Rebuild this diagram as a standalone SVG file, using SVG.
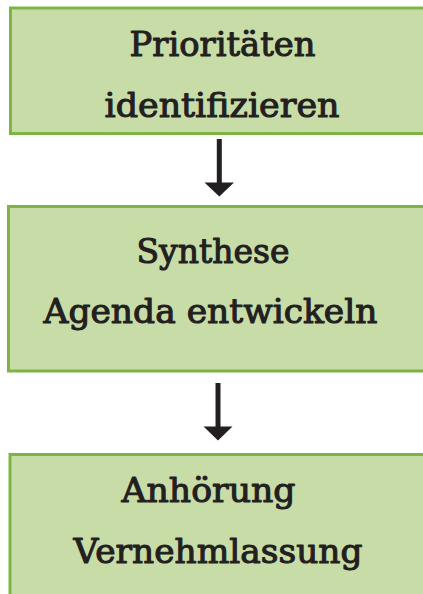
<svg xmlns="http://www.w3.org/2000/svg" width="423" height="594" viewBox="0 0 423 594">
<style>
.box{fill:#c8dca8;stroke:#7db544;stroke-width:3}
.t{font-family:"DejaVu Serif","Liberation Serif",serif;font-size:34px;font-weight:normal;fill:#231f20;stroke:#231f20;stroke-width:1.1;stroke-linejoin:round}
.arr{fill:#231f20}
</style>
<rect width="423" height="594" fill="#ffffff"/>
<g id="node1">
<rect class="box" x="10.5" y="8" width="420" height="125.5"/>
<text class="t" x="129.5" y="56" textLength="186" lengthAdjust="spacingAndGlyphs">Prioritäten</text>
<text class="t" x="104.5" y="117" textLength="235" lengthAdjust="spacingAndGlyphs">identifizieren</text>
</g>
<g id="node2">
<rect class="box" x="8.5" y="206.5" width="420" height="164.5"/>
<text class="t" x="136.5" y="263" textLength="153" lengthAdjust="spacingAndGlyphs">Synthese</text>
<text class="t" x="43.5" y="323" textLength="334" lengthAdjust="spacingAndGlyphs">Agenda entwickeln</text>
</g>
<g id="node3">
<rect class="box" x="10" y="454.5" width="420" height="150"/>
<text class="t" x="121.5" y="502" textLength="174" lengthAdjust="spacingAndGlyphs">Anhörung</text>
<text class="t" x="73.5" y="563" textLength="289" lengthAdjust="spacingAndGlyphs">Vernehmlassung</text>
</g>
<g id="connectors">
<rect class="arr" x="216.8" y="139" width="5" height="44"/>
<polygon class="arr" points="204.5,182.5 234,182.5 219.3,196.5"/>
<rect class="arr" x="215.5" y="383" width="5" height="44"/>
<polygon class="arr" points="203.5,426.5 232.5,426.5 218,440.5"/>
</g>
</svg>
